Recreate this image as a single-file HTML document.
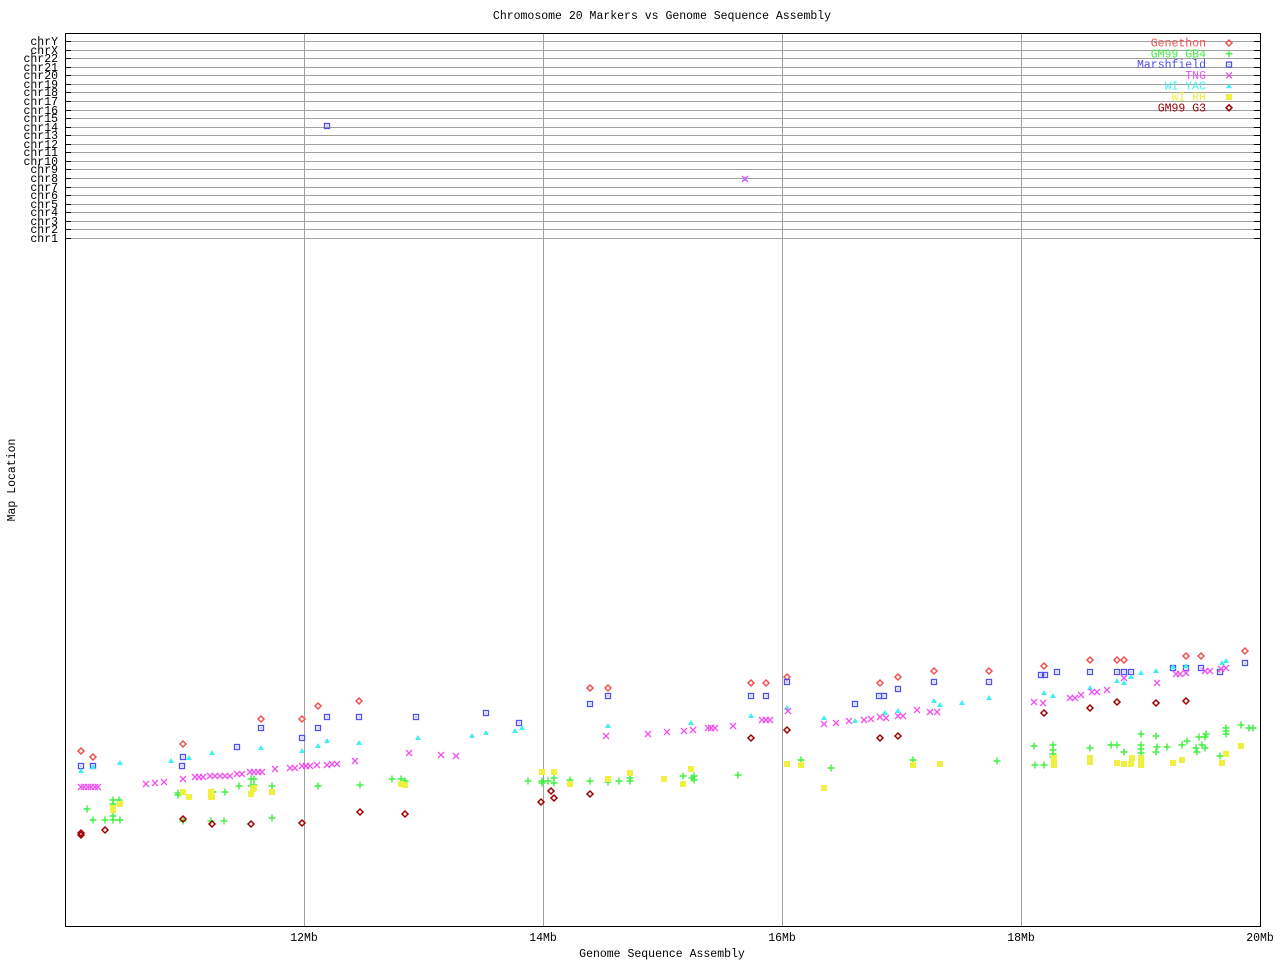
<!DOCTYPE html>
<html><head><meta charset="utf-8"><style>
html,body{margin:0;padding:0;background:#fff;}
svg text{font-family:"Liberation Mono","DejaVu Sans Mono",monospace;font-size:11.5px;}
</style></head><body>
<svg id="s" width="1280" height="960" xmlns="http://www.w3.org/2000/svg">
<rect width="1280" height="960" fill="#fff"/>
<text x="662" y="19" text-anchor="middle">Chromosome 20 Markers vs Genome Sequence Assembly</text>
<text x="662" y="957" text-anchor="middle">Genome Sequence Assembly</text>
<text x="15" y="480" text-anchor="middle" transform="rotate(-90 15 480)">Map Location</text>
<g id="grid" stroke="#a0a0a0" stroke-width="1"></g>
<g stroke="#000" stroke-width="1" fill="none">
<rect x="65.5" y="33.5" width="1195" height="893"/>
</g>
<g id="ticks" stroke="#000"></g>
<g id="lab"></g>
<g id="pts"></g>
</svg>
<script>
var NS="http://www.w3.org/2000/svg";
function el(p,t,a,txt){var e=document.createElementNS(NS,t);for(var k in a)e.setAttribute(k,a[k]);if(txt)e.textContent=txt;document.getElementById(p).appendChild(e);return e;}
var chrs=["chrY","chrX","chr22","chr21","chr20","chr19","chr18","chr17","chr16","chr15","chr14","chr13","chr12","chr11","chr10","chr9","chr8","chr7","chr6","chr5","chr4","chr3","chr2","chr1"];
for(var i=0;i<24;i++){var y=Math.round(41+i*(238-41)/23)+0.5;
el("grid","line",{x1:66,x2:1260,y1:y,y2:y});
el("ticks","line",{x1:66,x2:71,y1:y,y2:y});el("ticks","line",{x1:1254,x2:1260,y1:y,y2:y});
el("lab","text",{x:58,y:y+3.5,"text-anchor":"end"},chrs[i]);}
[304,543,782,1021].forEach(function(x){el("grid","line",{x1:x+.5,x2:x+.5,y1:34,y2:926});});
[[304,"12Mb"],[543,"14Mb"],[782,"16Mb"],[1021,"18Mb"],[1260,"20Mb"]].forEach(function(a){el("lab","text",{x:a[0],y:941,"text-anchor":"middle"},a[1]);});
var C={r:"#f05050",g:"#40f040",b:"#5050f0",m:"#f050f0",c:"#40f0f0",y:"#f0f040",d:"#a00000"};
function mk(t,x,y){
 if(t=="r"||t=="d"){el("pts","path",{d:"M"+x+" "+(y-3)+"L"+(x+3)+" "+y+"L"+x+" "+(y+3)+"L"+(x-3)+" "+y+"Z",fill:"none",stroke:C[t],"stroke-width":1.5});}
 else if(t=="b"){el("pts","rect",{x:x-2.5,y:y-2.5,width:5,height:5,fill:"none",stroke:C.b,"stroke-width":1.3});el("pts","rect",{x:x-.5,y:y-.5,width:1,height:1,fill:C.b});}
 else if(t=="m"){el("pts","path",{d:"M"+(x-3)+" "+(y-3)+"L"+(x+3)+" "+(y+3)+"M"+(x+3)+" "+(y-3)+"L"+(x-3)+" "+(y+3),stroke:C.m,"stroke-width":1.3});}
 else if(t=="g"){el("pts","path",{d:"M"+(x-3.5)+" "+y+"L"+(x+3.5)+" "+y+"M"+x+" "+(y-3.5)+"L"+x+" "+(y+3.5),stroke:C.g,"stroke-width":1.4});}
 else if(t=="c"){el("pts","path",{d:"M"+x+" "+(y-3)+"L"+(x+3)+" "+(y+2)+"L"+(x-3)+" "+(y+2)+"Z",fill:C.c});}
 else if(t=="y"){el("pts","rect",{x:x-3,y:y-3,width:6,height:6,fill:C.y});}
}
var D={
r:[[81,751],[93,757],[183,744],[261,719],[302,719],[318,706],[359,701],[590,688],[608,688],[751,683],[766,683],[787,677],[880,683],[898,677],[934,671],[989,671],[1044,666],[1090,660],[1117,660],[1124,660],[1186,656],[1201,656],[1245,651]],
b:[[81,766],[93,766],[183,757],[182,766],[237,747],[261,728],[302,738],[318,728],[327,717],[359,717],[416,717],[486,713],[519,723],[590,704],[608,696],[751,696],[766,696],[787,682],[855,704],[879,696],[884,696],[898,689],[934,682],[989,682],[1041,675],[1045,675],[1057,672],[1090,672],[1117,672],[1124,672],[1131,672],[1173,668],[1186,668],[1201,668],[1220,672],[1245,663],[327,126]],
c:[[81,771],[93,767],[120,763],[171,761],[189,758],[212,753],[261,748],[302,751],[318,746],[327,741],[359,743],[418,738],[472,736],[486,733],[515,731],[522,728],[608,726],[691,723],[751,716],[787,708],[824,718],[855,721],[885,713],[898,711],[934,701],[940,705],[962,703],[989,698],[1044,693],[1053,696],[1090,688],[1117,681],[1124,683],[1131,677],[1141,673],[1156,671],[1173,667],[1186,666],[1222,663],[1226,661],[745,179]],
m:[[81,787],[84,787],[88,787],[91,787],[95,787],[98,787],[146,784],[155,783],[164,782],[183,779],[195,777],[199,777],[203,777],[210,776],[215,776],[220,776],[225,776],[230,776],[237,774],[242,774],[250,772],[254,772],[258,772],[262,772],[275,769],[290,768],[295,768],[302,766],[306,766],[310,766],[317,765],[327,765],[332,764],[337,764],[355,761],[409,753],[441,755],[456,756],[606,736],[648,734],[667,732],[684,731],[693,730],[708,728],[711,728],[715,728],[733,726],[762,720],[766,720],[770,720],[788,711],[824,724],[836,723],[849,721],[864,720],[871,719],[880,717],[886,718],[898,716],[903,716],[917,710],[930,712],[937,712],[1034,702],[1043,703],[1070,698],[1075,698],[1081,695],[1092,692],[1097,692],[1107,690],[1124,678],[1157,683],[1176,674],[1180,674],[1186,673],[1205,671],[1210,671],[1221,669],[1226,668],[745,179]],
g:[[87,809],[93,820],[105,820],[113,820],[113,816],[113,800],[113,804],[119,800],[120,820],[178,793],[178,795],[183,821],[211,821],[213,792],[225,792],[224,821],[239,786],[251,779],[254,779],[251,786],[254,785],[272,786],[272,818],[318,786],[360,785],[392,779],[401,779],[405,781],[528,781],[542,781],[542,783],[548,781],[554,778],[554,783],[570,780],[590,781],[608,782],[619,781],[630,778],[630,781],[683,776],[694,776],[694,780],[692,778],[738,775],[801,760],[831,768],[913,760],[997,761],[1034,746],[1035,765],[1044,765],[1053,745],[1053,750],[1053,754],[1053,757],[1090,748],[1111,745],[1117,745],[1124,752],[1141,734],[1141,745],[1141,749],[1141,753],[1156,736],[1156,752],[1157,747],[1167,747],[1182,745],[1187,741],[1196,748],[1197,752],[1199,737],[1202,745],[1205,748],[1205,737],[1206,734],[1220,756],[1226,728],[1226,731],[1226,734],[1241,725],[1249,728],[1253,728]],
y:[[113,808],[113,810],[120,804],[183,792],[189,797],[211,792],[211,797],[212,797],[251,794],[253,789],[254,788],[272,792],[401,784],[405,785],[542,772],[554,772],[570,784],[608,779],[630,773],[664,779],[683,784],[691,769],[787,764],[801,765],[824,788],[913,765],[940,764],[1054,758],[1054,762],[1054,765],[1090,758],[1090,762],[1117,763],[1124,764],[1131,764],[1132,758],[1141,758],[1141,762],[1141,765],[1173,763],[1182,760],[1222,763],[1226,754],[1241,746]],
d:[[81,833],[81,835],[105,830],[183,819],[212,824],[251,824],[302,823],[360,812],[405,814],[541,802],[551,791],[554,798],[590,794],[751,738],[787,730],[880,738],[898,736],[1044,713],[1090,708],[1117,702],[1156,703],[1186,701]]
};
for(var k in D)D[k].forEach(function(p){mk(k,p[0],p[1]);});
var L=[["Genethon","r"],["GM99 GB4","g"],["Marshfield","b"],["TNG","m"],["WI YAC","c"],["WI RH","y"],["GM99 G3","d"]];
L.forEach(function(a,i){var y=43+i*10.8;el("lab","text",{x:1206,y:y+3.5,"text-anchor":"end",fill:C[a[1]]},a[0]);mk(a[1],1229,y);});
</script>
</body></html>
